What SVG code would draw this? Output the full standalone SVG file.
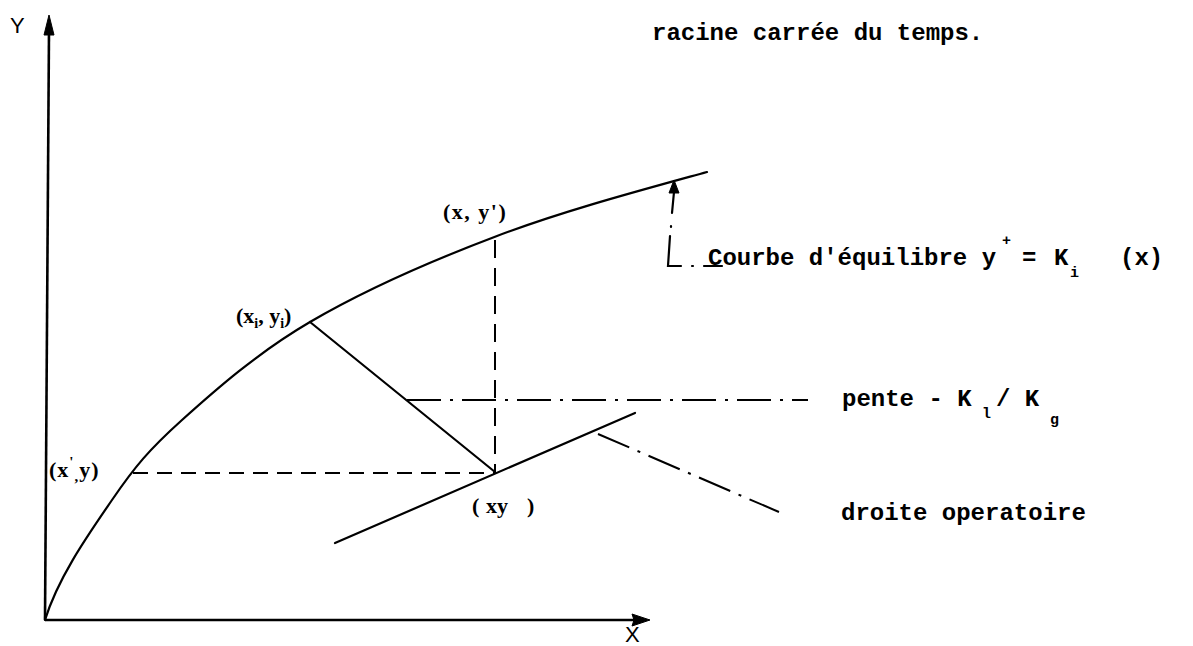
<svg xmlns="http://www.w3.org/2000/svg" width="1193" height="646" viewBox="0 0 1193 646">
<style>
.bg{fill:#ffffff}
.ln{fill:none;stroke:#000;stroke-width:2.2;stroke-linecap:round}
.ax{fill:none;stroke:#000;stroke-width:2.6}
.dash{fill:none;stroke:#000;stroke-width:2;stroke-dasharray:15 9}
.dashv{fill:none;stroke:#000;stroke-width:2;stroke-dasharray:18 10}
.dd{fill:none;stroke:#000;stroke-width:2;stroke-dasharray:34 9 3 9}
.head{fill:#000;stroke:#000;stroke-width:1}
.tw{font-family:"Liberation Mono","Courier New",monospace;font-size:24px;font-weight:bold;fill:#000}
.hand{font-family:"Liberation Serif","Times New Roman",serif;font-size:22px;font-weight:bold;fill:#000}
.axl{font-family:"Liberation Sans",Arial,sans-serif;font-size:22px;fill:#000}
.small{font-size:15px}
</style>
<rect class="bg" x="0" y="0" width="1193" height="646"/>

<g id="axes">
  <path class="ax" d="M45,620 L49,30"/>
  <polygon class="head" points="49,15 54,35 44,35"/>
  <path class="ax" d="M45,620 L636,620"/>
  <polygon class="head" points="650,620 632,614 634,620 632,626"/>
  <text class="axl" x="10" y="33">Y</text>
  <text class="axl" x="625" y="642">X</text>
</g>

<g id="equilibrium-curve">
  <path class="ln" d="M45,620 C58.3,576.7 89.2,533.3 112,500 C134.8,466.7 149,449.7 182,420 C215,390.3 257.5,352.7 310,322 C362.5,291.3 430.8,261 497,236 C563.2,211 637,191.3 707,172"/>
</g>

<g id="operating-line">
  <path class="ln" d="M335,543 L635,413"/>
</g>

<g id="connectors">
  <path class="ln" d="M310,322 L495,472"/>
  <path class="dashv" d="M495,240 L495,472"/>
  <path class="dash" d="M133,473 L495,473"/>
  <path class="dd" d="M407,400 L808,400"/>
  <path class="dd" d="M598,434 L779,512"/>
  <polygon class="head" points="674,180 679,193 669,193"/>
  <path class="ln" d="M674,192 L672,213 M671,226 L671,227 M670,236 L668,266 L681,266 M692,266 L693,266 M704,266 L722,266"/>
</g>

<g id="label-racine">
  <text class="tw" x="652" y="40">racine carrée du temps.</text>
</g>

<g id="label-courbe">
  <text class="tw" x="708" y="265">Courbe d'équilibre y<tspan class="small" x="1002" y="245">+</tspan><tspan x="1022" y="265">=</tspan><tspan x="1054" y="265">K</tspan><tspan class="small" x="1070" y="277">i</tspan><tspan x="1120" y="265">(x)</tspan></text>
</g>

<g id="label-pente">
  <text class="tw" x="842" y="406">pente - K<tspan class="small" x="982" y="418">l</tspan><tspan x="996" y="406">/ K</tspan><tspan class="small" x="1050" y="424">g</tspan></text>
</g>

<g id="label-droite">
  <text class="tw" x="841" y="520">droite operatoire</text>
</g>

<g id="point-xy1">
  <text class="hand" x="443" y="219" letter-spacing="1.5">(x, y')</text>
</g>

<g id="point-xiyi">
  <text class="hand" x="236" y="323">(x<tspan font-size="14" dy="5">i</tspan><tspan dy="-5">, y</tspan><tspan font-size="14" dy="5">i</tspan><tspan dy="-5">)</tspan></text>
</g>

<g id="point-x1y">
  <text class="hand" x="49" y="477" letter-spacing="1">(x<tspan font-size="15" dy="-10">'</tspan><tspan font-size="15" dy="14">,</tspan><tspan dy="-4">y)</tspan></text>
</g>

<g id="point-xy">
  <text class="hand" y="513"><tspan x="472">(</tspan><tspan x="486">xy</tspan><tspan x="527">)</tspan></text>
</g>
</svg>
